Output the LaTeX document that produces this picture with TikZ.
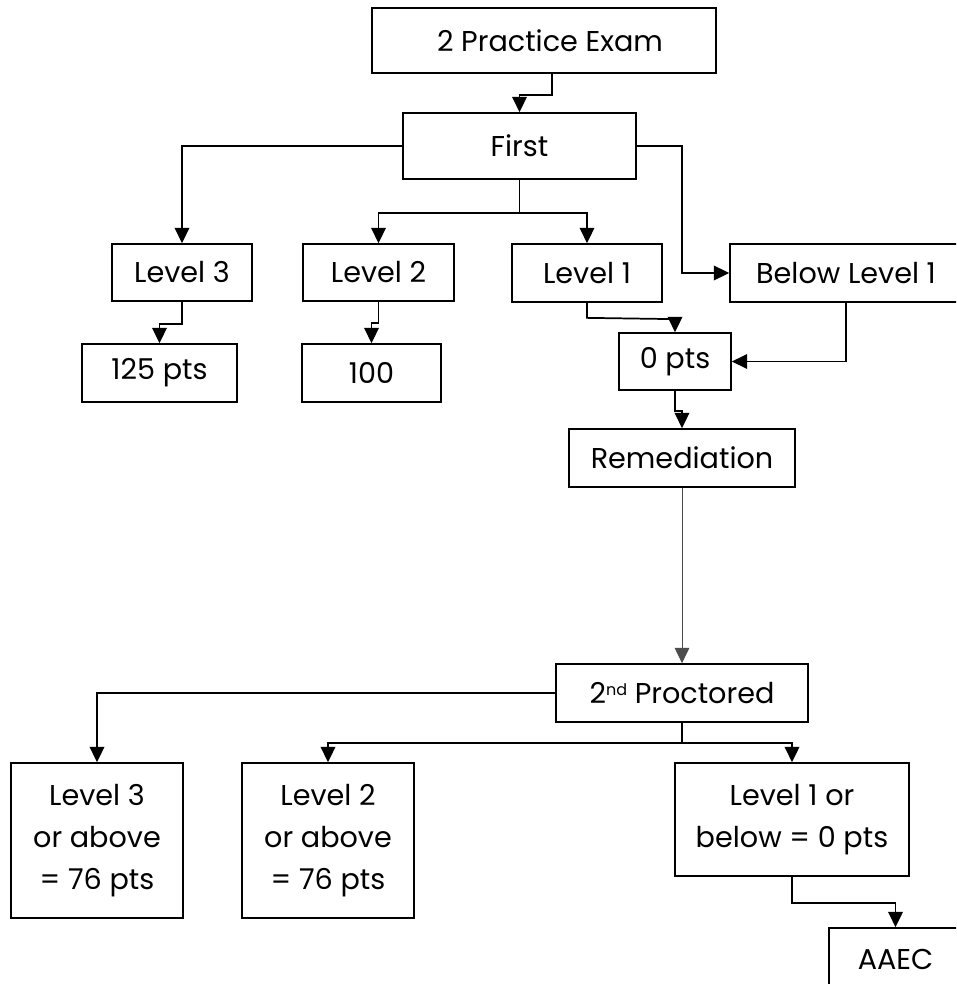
\documentclass[tikz,border=0pt]{standalone}
\usepackage{fontspec}
\setmainfont{Poppins}
\usetikzlibrary{arrows.meta,calc}
\begin{document}
\begin{tikzpicture}[x=0.75pt,y=-0.75pt,
  box/.style={draw,line width=1.3pt,rectangle,inner sep=0pt,align=center,
    font=\fontsize{21.5}{31.5}\selectfont},
  arr/.style={line width=1.3pt,-{Triangle[width=11pt,length=11.5pt]}},
  thinarr/.style={line width=0.6pt,draw=black!70,-{Triangle[width=11pt,length=11.5pt]}}]
\clip (0,0) rectangle (956,984);
\fill[white] (0,0) rectangle (956,984);
\node[box,minimum width=258pt,minimum height=48.75pt] (pe) at (544,40.5) {\hspace*{9pt}2 Practice Exam};
\node[box,minimum width=174.75pt,minimum height=49.5pt] (first) at (519.5,146) {First};
\node[box,minimum width=105pt,minimum height=42.75pt] (l3) at (182,272.5) {Level 3};
\node[box,minimum width=113.25pt,minimum height=42.75pt] (l2) at (378.5,272.5) {Level 2};
\node[box,minimum width=112.5pt,minimum height=43.5pt] (l1) at (587,273) {Level 1};
\node[box,minimum width=174pt,minimum height=43.5pt] (bl1) at (846,273) {Below Level 1};
\node[box,minimum width=116.25pt,minimum height=43.5pt] (p125) at (159.5,373) {125 pts};
\node[box,minimum width=104.25pt,minimum height=43.5pt] (p100) at (371.5,373) {100};
\node[box,minimum width=84pt,minimum height=42.75pt] (p0) at (675,361.5) {0 pts};
\node[box,minimum width=169.5pt,minimum height=43.5pt] (rem) at (682,458) {Remediation};
\node[box,minimum width=189pt,minimum height=43.5pt] (proc) at (682,693) {2{\fontsize{12}{12}\selectfont\raisebox{6pt}{nd}} Proctored};
\node[box,minimum width=129pt,minimum height=116.25pt] (l3a) at (97,840.5) {Level 3\\or above\\= 76 pts};
\node[box,minimum width=129pt,minimum height=116.25pt] (l2a) at (328,840.5) {Level 2\\or above\\= 76 pts};
\node[box,minimum width=175.5pt,minimum height=84.75pt] (l1b) at (792,819.5) {Level 1 or\\below = 0 pts};
\node[box,minimum width=99.75pt,minimum height=46.5pt] (aaec) at (895.5,959) {AAEC};
\coordinate (pes) at ($(pe.south)+(8,0)$);
\coordinate (blw) at ($(bl1.west)+(-47,0)$);
\coordinate (l1k) at ($(l1.south)+(0,15)$);
\coordinate (p0k) at ($(p0.north)+(0,-13)$);
\draw[arr] (pes) -- ++(0,21) -| (first.north);
\draw[arr] (first.west) -| (l3.north);
\draw[arr] (first.south) -- ++(0,33) -| (l2.north);
\draw[arr] (first.south) -- ++(0,33) -| (l1.north);
\draw[arr] (first.east) -| (blw) -- (bl1.west);
\draw[arr] (l3.south) -- ++(0,22) -| (p125.north);
\draw[arr] (l2.south) -- ++(0,21) -| (p100.north);
\draw[arr] (l1.south) -- (l1k) -- (p0k) -- (p0.north);
\draw[arr] (bl1.south) |- (p0.east);
\draw[arr] (p0.south) -- ++(0,20) -| (rem.north);
\draw[thinarr] (rem.south) -- (proc.north);
\draw[arr] (proc.west) -| (l3a.north);
\draw[arr] (proc.south) -- ++(0,20) -| (l2a.north);
\draw[arr] (proc.south) -- ++(0,20) -| (l1b.north);
\draw[arr] (l1b.south) -- ++(0,26) -| (aaec.north);
\end{tikzpicture}
\end{document}
